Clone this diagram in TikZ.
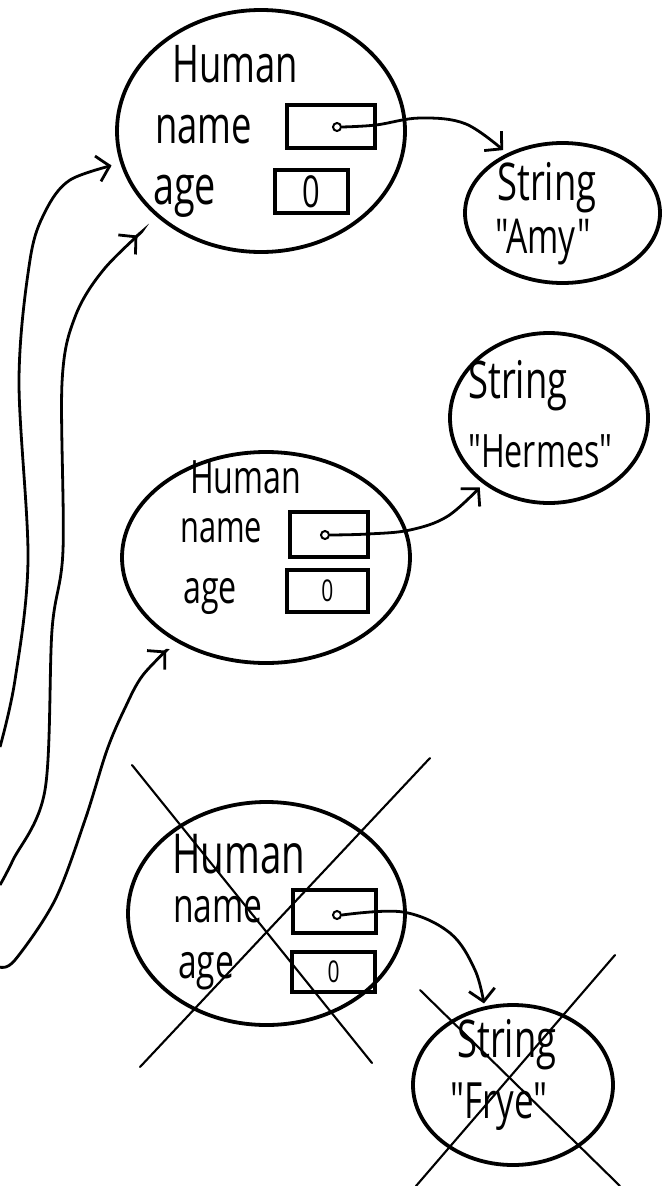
\documentclass[tikz,border=0pt]{standalone}
\usepackage{fontspec}
\newfontfamily\hand[FakeStretch=0.7]{Open Sans}
\usetikzlibrary{shapes.geometric,arrows.meta}
\begin{document}
\begin{tikzpicture}[x=1pt,y=-1pt,
  blob/.style={ellipse,draw,line width=3.8pt,inner sep=0pt},
  field/.style={draw,line width=3.2pt,inner sep=0pt},
  lbl/.style={inner sep=0pt,anchor=base west},
  ptr/.style={line width=2.8pt,-{Straight Barb[length=12pt,width=26pt]}},
  dotc/.style={circle,draw,fill=white,line width=2pt,inner sep=0pt,minimum size=8pt},
  cross/.style={line width=2.1pt,line cap=round}]
\useasboundingbox (0,0) rectangle (667,1186);

% objects
\node[blob,minimum width=288pt,minimum height=242pt] (h1) at (261,131) {};
\node[blob,minimum width=288pt,minimum height=211pt] (h2) at (266,557.5) {};
\node[blob,minimum width=277pt,minimum height=223pt] (h3) at (266.5,913.5) {};
\node[blob,minimum width=195pt,minimum height=140pt] (amy) at (562.5,213) {};
\node[blob,minimum width=198pt,minimum height=170pt] (hermes) at (549,418) {};
\node[blob,minimum width=200pt,minimum height=160pt] (frye) at (513,1085) {};

% labels Human 1
\node[lbl,font=\hand\fontsize{52}{60}\selectfont] (t1) at (172,82) {Human};
\node[lbl,font=\hand\fontsize{52}{60}\selectfont] (nm1) at (155,143) {name};
\node[lbl,font=\hand\fontsize{54}{60}\selectfont] (ag1) at (153,204) {age};
\node[field,minimum width=88pt,minimum height=43pt] (n1) at (331,126.5) {};
\node[field,minimum width=73pt,minimum height=43pt,font=\hand\fontsize{44}{44}\selectfont] (a1) at (311.5,191.5) {0};

% labels Human 2
\node[lbl,font=\hand\fontsize{46}{50}\selectfont] (t2) at (190,493) {Human};
\node[lbl,font=\hand\fontsize{44}{50}\selectfont] (nm2) at (180,542) {name};
\node[lbl,font=\hand\fontsize{46}{50}\selectfont] (ag2) at (183,603) {age};
\node[field,minimum width=78pt,minimum height=45pt] (n2) at (329,534.5) {};
\node[field,minimum width=81pt,minimum height=42pt,font=\hand\fontsize{30}{30}\selectfont] (a2) at (327.5,591) {0};

% labels Human 3
\node[lbl,font=\hand\fontsize{55}{60}\selectfont] (t3) at (172,873) {Human};
\node[lbl,font=\hand\fontsize{48}{50}\selectfont] (nm3) at (173,922) {name};
\node[lbl,font=\hand\fontsize{48}{50}\selectfont] (ag3) at (178,978) {age};
\node[field,minimum width=83pt,minimum height=43pt] (n3) at (334.5,911.5) {};
\node[field,minimum width=83pt,minimum height=40pt,font=\hand\fontsize{30}{30}\selectfont] (a3) at (333.5,972) {0};

% strings
\node[lbl,font=\hand\fontsize{52}{60}\selectfont] (s1) at (497,200) {String};
\node[lbl,font=\hand\fontsize{48}{60}\selectfont] (q1) at (495,253) {"Amy"};
\node[lbl,font=\hand\fontsize{52}{60}\selectfont] (s2) at (468,398) {String};
\node[lbl,font=\hand\fontsize{46}{60}\selectfont] (q2) at (468,467) {"Hermes"};
\node[lbl,font=\hand\fontsize{52}{60}\selectfont] (s3) at (457,1057) {String};
\node[lbl,font=\hand\fontsize{50}{60}\selectfont] (q3) at (450,1118) {"Frye"};

% reference dots
\node[dotc] (d1) at (337,127) {};
\node[dotc] (d2) at (325,535) {};
\node[dotc] (d3) at (337,915) {};

% field pointers
\draw[ptr,shorten >=5pt] plot[smooth,tension=0.6] coordinates {(d1.east) (376,125) (420,118) (466,124) (amy.133)};
\draw[ptr,shorten >=5pt] plot[smooth,tension=0.6] coordinates {(d2.east) (368,534) (410,530) (448,516) (hermes.225)};
\draw[ptr,shorten >=3pt] plot[smooth,tension=0.6] coordinates {(d3.east) (403,912) (450,933) (475,970) (frye.110)};

% outside references
\coordinate (eA) at (0,747);
\coordinate (eB) at (0,885);
\coordinate (eC) at (0,967);
\draw[ptr,shorten >=9pt] plot[smooth,tension=0.55] coordinates {(eA) (15,680) (28,560) (19,380) (30,260) (45,212) (70,180) (h1.193)};
\draw[ptr,shorten >=27pt] plot[smooth,tension=0.55] coordinates {(eB) (13,860) (45,790) (52,630) (63,550) (62,383) (75,317) (105,268) (h1.220)};
\draw[ptr,shorten >=13pt] plot[smooth,tension=0.55] coordinates {(eC) (15,960) (55,900) (85,820) (107,750) (125,708) (143,675) (h2.223)};

% crossed out objects
\draw[cross] (132,765) -- (372,1063);
\draw[cross] (430,758) -- (140,1067);
\draw[cross] (420,990) -- (620,1186);
\draw[cross] (615,955) -- (416,1186);
\end{tikzpicture}
\end{document}
